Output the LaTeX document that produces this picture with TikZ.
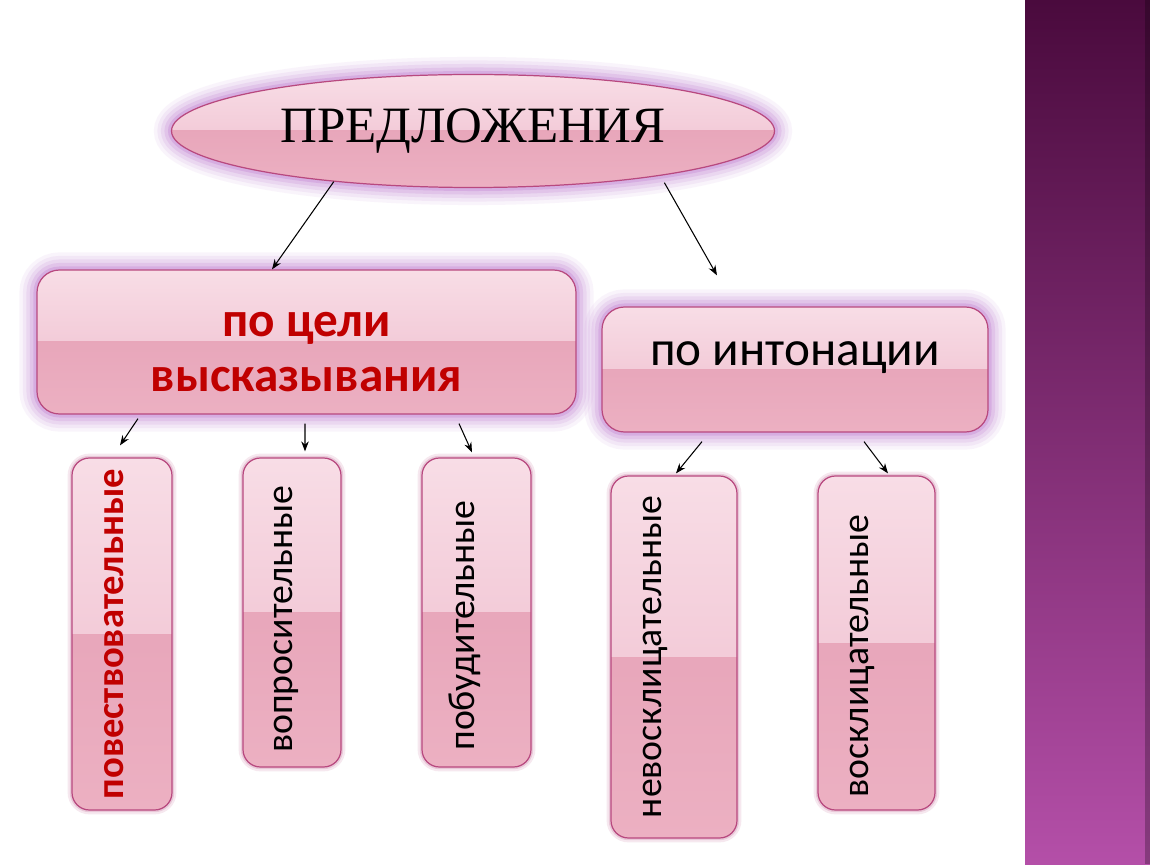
\documentclass[tikz,border=0pt]{standalone}
\usepackage{fontspec}
\setmainfont{Liberation Serif}
\newfontfamily\bodyfont{Carlito}
\usepackage{tikz}
\usetikzlibrary{calc,shapes.geometric,arrows.meta}

\definecolor{pinktop}{HTML}{F8DDE6}
\definecolor{pinkmid}{HTML}{EEBACB}
\definecolor{pinklow}{HTML}{E49DB3}
\definecolor{pinkbot}{HTML}{ECB0C2}
\definecolor{boxline}{HTML}{B8497F}
\definecolor{glowc}{HTML}{BE78D0}
\definecolor{redtext}{HTML}{C00000}
\definecolor{bandtop}{HTML}{4A0A3D}
\definecolor{bandmid}{HTML}{7B2F71}
\definecolor{bandbot}{HTML}{B44FA8}

\begin{document}
\begin{tikzpicture}[
    gloss/.style={draw=boxline, line width=0.7pt, top color=pinktop, bottom color=pinkmid,
      path picture={\shade[sharp corners, top color=pinklow, bottom color=pinkbot]
        (path picture bounding box.west) rectangle (path picture bounding box.south east);}},
    glow/.style={preaction={draw=glowc, line width=20pt, opacity=0.08},
      preaction={draw=glowc, line width=16pt, opacity=0.1},
      preaction={draw=glowc, line width=12pt, opacity=0.14},
      preaction={draw=glowc, line width=8pt, opacity=0.2},
      preaction={draw=glowc, line width=4pt, opacity=0.3}},
    smallglow/.style={preaction={draw=boxline, line width=5pt, opacity=0.12},
      preaction={draw=boxline, line width=2.5pt, opacity=0.2}},
    bigbox/.style={gloss, glow, rounded corners=0.45cm, inner sep=0pt},
    vbox/.style={gloss, smallglow, rounded corners=0.35cm, inner sep=0pt},
    vtext/.style={rotate=90, font=\bodyfont\fontsize{21.5}{26}\selectfont},
    arr/.style={-{Stealth[length=2mm,width=1.5mm]}, line width=0.6pt}
  ]
    \useasboundingbox (0,0) rectangle (23,17.28);
    \fill[white] (0,0) rectangle (23,17.28);
    \shade[top color=bandtop, middle color=bandmid, bottom color=bandbot] (20.5,0) rectangle (23,17.28);
    \fill[black, opacity=0.25] (22.9,0) rectangle (23,17.28);

    \node[ellipse, gloss, glow, minimum width=12.06cm, minimum height=2.26cm, inner sep=0pt,
      font=\fontsize{29}{34}\selectfont] (pred) at (9.46,14.66) {ПРЕДЛОЖЕНИЯ};

    \node[bigbox, minimum width=10.78cm, minimum height=2.88cm] (cel) at (6.13,10.44) {};
    \node[align=center, text=redtext, font=\bodyfont\bfseries\fontsize{28}{31}\selectfont]
      (celtext) at ([yshift=-0.2cm]cel) {по цели\\высказывания};
    \node[bigbox, minimum width=7.72cm, minimum height=2.5cm] (inton) at (15.9,9.89) {};
    \node[font=\bodyfont\fontsize{28}{34}\selectfont] (intontext) at ([yshift=0.24cm]inton) {по интонации};

    \node[vbox, minimum width=2cm, minimum height=7.04cm] (povest) at (2.44,4.6) {};
    \node[vbox, minimum width=1.96cm, minimum height=6.18cm] (vopros) at (5.84,5.03) {};
    \node[vbox, minimum width=2.18cm, minimum height=6.18cm] (pobud) at (9.53,5.03) {};
    \node[vbox, minimum width=2.52cm, minimum height=7.24cm] (nevoskl) at (13.48,4.14) {};
    \node[vbox, minimum width=2.34cm, minimum height=6.68cm] (voskl) at (17.53,4.42) {};

    \node[vtext, text=redtext, font=\bodyfont\bfseries\fontsize{22}{26}\selectfont] (povesttext) at ([xshift=-0.16cm]povest) {повествовательные};
    \node[vtext] (voprostext) at ([xshift=-0.12cm,yshift=-0.13cm]vopros) {вопросительные};
    \node[vtext] (pobudtext) at ([xshift=-0.23cm,yshift=-0.26cm]pobud) {побудительные};
    \node[vtext] (nevoskltext) at ([xshift=-0.38cm]nevoskl) {невосклицательные};
    \node[vtext] (voskltext) at ([xshift=-0.29cm,yshift=-0.26cm]voskl) {восклицательные};

    \draw[arr] (pred.-160) -- ([xshift=-0.69cm]cel.north);
    \draw[arr] ([yshift=-0.15cm]pred.-13) -- ([xshift=-1.56cm,yshift=0.62cm]inton.north);
    \draw[arr] ([xshift=-3.37cm,yshift=-0.08cm]cel.south) -- ([xshift=-0.04cm,yshift=0.24cm]povest.north);
    \draw[arr] ([xshift=-0.03cm,yshift=-0.18cm]cel.south) -- ([xshift=0.26cm,yshift=0.12cm]vopros.north);
    \draw[arr] ([xshift=3.05cm,yshift=-0.18cm]cel.south) -- ([xshift=-0.09cm,yshift=0.1cm]pobud.north);
    \draw[arr] ([xshift=-1.86cm,yshift=-0.18cm]inton.south) -- ([xshift=0.04cm,yshift=0.04cm]nevoskl.north);
    \draw[arr] ([xshift=1.38cm,yshift=-0.18cm]inton.south) -- ([xshift=0.23cm,yshift=0.04cm]voskl.north);
  \end{tikzpicture}
\end{document}
